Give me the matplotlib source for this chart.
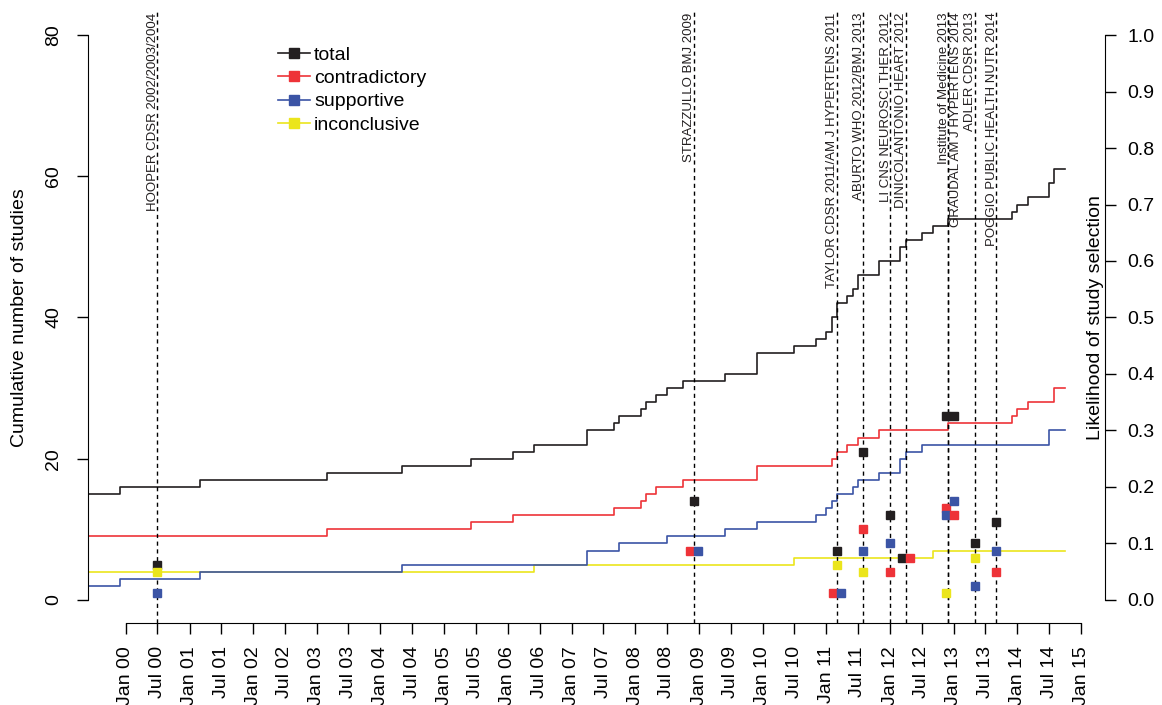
import pandas as pd
import matplotlib
matplotlib.use("Agg")
import matplotlib.pyplot as plt
import matplotlib.dates as mdates
import matplotlib.transforms as mtransforms
from matplotlib.lines import Line2D

plt.rcParams["font.family"] = ["Liberation Sans", "DejaVu Sans"]

# cumulative counts (step changes, monthly)
total_dates = ["1999-06-01", "1999-12-01", "2001-03-01", "2003-03-01", "2004-05-01", "2005-06-01",
               "2006-02-01", "2006-06-01", "2007-04-01", "2007-09-01", "2007-10-01", "2008-02-01",
               "2008-03-01", "2008-05-01", "2008-07-01", "2008-10-01", "2009-06-01", "2009-12-01",
               "2010-07-01", "2010-11-01", "2011-01-01", "2011-02-01", "2011-03-01", "2011-05-01",
               "2011-06-01", "2011-07-01", "2011-11-01", "2012-03-01", "2012-04-01", "2012-07-01",
               "2012-09-01", "2012-12-01", "2013-12-01", "2014-01-01", "2014-03-01", "2014-07-01",
               "2014-08-01"]
total_counts = [15, 16, 17, 18, 19, 20, 21, 22, 24, 25, 26, 27, 28, 29, 30, 31, 32, 35, 36, 37,
                38, 40, 42, 43, 44, 46, 48, 50, 51, 52, 53, 54, 55, 56, 57, 59, 61]

contra_dates = ["1999-06-01", "2003-03-01", "2005-06-01", "2006-02-01", "2007-09-01", "2008-02-01",
                "2008-03-01", "2008-05-01", "2008-10-01", "2009-12-01", "2011-02-01", "2011-03-01",
                "2011-05-01", "2011-07-01", "2011-11-01", "2012-12-01", "2013-12-01", "2014-01-01",
                "2014-03-01", "2014-08-01"]
contra_counts = [9, 10, 11, 12, 13, 14, 15, 16, 17, 19, 20, 21, 22, 23, 24, 25, 26, 27, 28, 30]

support_dates = ["1999-06-01", "1999-12-01", "2001-03-01", "2004-05-01", "2007-04-01", "2007-10-01",
                 "2008-07-01", "2009-06-01", "2009-12-01", "2010-11-01", "2011-01-01", "2011-02-01",
                 "2011-03-01", "2011-06-01", "2011-07-01", "2011-11-01", "2012-03-01", "2012-04-01",
                 "2012-07-01", "2014-07-01"]
support_counts = [2, 3, 4, 5, 7, 8, 9, 10, 11, 12, 13, 14, 15, 16, 17, 18, 20, 21, 22, 24]

incon_dates = ["1999-06-01", "2006-06-01", "2010-07-01", "2012-09-01"]
incon_counts = [4, 5, 6, 7]

end_date = "2014-10-01"

# reviews and their likelihood of study selection
reviews = ["HOOPER CDSR 2002/2003/2004", "STRAZZULLO BMJ 2009",
           "TAYLOR CDSR 2011/AM J HYPERTENS 2011", "ABURTO WHO 2012/BMJ 2013",
           "LI CNS NEUROSCI THER 2012", "DINICOLANTONIO HEART 2012",
           "Institute of Medicine 2013", "GRAUDAL AM J HYPERTENS 2014",
           "ADLER CDSR 2013", "POGGIO PUBLIC HEALTH NUTR 2014"]
review_lines = ["2000-07-01", "2008-12-01", "2011-03-01", "2011-08-01", "2012-01-01",
                "2012-04-01", "2012-12-01", "2012-12-01", "2013-05-01", "2013-09-01"]
point_dates = ["2000-07-01", "2008-12-01", "2011-03-01", "2011-08-01", "2012-01-01",
               "2012-04-01", "2012-11-18", "2013-01-02", "2013-05-01", "2013-09-01"]
label_side = ["left"] * 7 + ["right"] + ["left"] * 2

total_lik = [0.0625, 0.175, 0.0875, 0.2625, 0.15, 0.075, 0.325, 0.325, 0.1, 0.1375]
contra_lik = [None, 0.0875, 0.0125, 0.125, 0.05, 0.075, 0.1625, 0.15, None, 0.05]
support_lik = [0.0125, 0.0875, 0.0125, 0.0875, 0.1, None, 0.15, 0.175, 0.025, 0.0875]
incon_lik = [0.05, None, 0.0625, 0.05, None, None, 0.0125, None, 0.075, None]

names = ["total", "contradictory", "supportive", "inconclusive"]
colours = ["#231f20", "#ee3338", "#3b54a5", "#ebe51c"]

fig = plt.figure(figsize=(11.62, 7.05), dpi=100)
ax = fig.add_axes([0.0761, 0.1169, 0.8645, 0.8655])

series = [(total_dates, total_counts), (contra_dates, contra_counts),
          (support_dates, support_counts), (incon_dates, incon_counts)]
draw_order = [0, 1, 3, 2]
for k in draw_order:
    d, c = series[k]
    x = pd.to_datetime(d + [end_date])
    y = c + [c[-1]]
    ax.step(x, y, where="post", color=colours[k], lw=1.2, zorder=2)

for d in review_lines:
    ax.axvline(pd.Timestamp(d), color="black", lw=1.0, dashes=(3, 2.6), zorder=3)

ax.set_xlim(pd.Timestamp("1999-06-01"), pd.Timestamp("2015-03-10"))
ax.set_ylim(-3.2, 83.2)

ticks = pd.date_range("2000-01-01", "2015-01-01", freq="6MS")
ax.set_xticks(ticks)
ax.xaxis.set_major_formatter(mdates.DateFormatter("%b %y"))
ax.set_yticks([0, 20, 40, 60, 80])
ax.tick_params(axis="x", labelsize=14, length=8, width=1, pad=9, labelrotation=90)
ax.tick_params(axis="y", labelsize=14, length=8, width=1, pad=11)
for t in ax.get_yticklabels():
    t.set_rotation(90)
    t.set_va("center")

ax.spines["top"].set_visible(False)
ax.spines["right"].set_visible(False)
ax.spines["left"].set_bounds(0, 80)
ax.spines["bottom"].set_bounds(mdates.date2num(pd.Timestamp("2000-01-01")),
                               mdates.date2num(pd.Timestamp("2015-01-01")))

# right axis: likelihood points
ax2 = ax.twinx()
ax2.set_ylim(-0.04, 1.04)
ax2.set_yticks([i / 10 for i in range(11)])
ax2.set_yticklabels([f"{i / 10:.1f}" for i in range(11)])
ax2.tick_params(axis="y", labelsize=14, length=8, width=1, pad=8)
for t in ax2.get_yticklabels():
    t.set_rotation(90)
    t.set_va("center")
for s in ["top", "left", "bottom"]:
    ax2.spines[s].set_visible(False)
ax2.spines["right"].set_position(("outward", 8.5))
ax2.spines["right"].set_bounds(0, 1)

lik = [total_lik, contra_lik, support_lik, incon_lik]
for i in range(len(reviews)):
    base = pd.Timestamp(point_dates[i])
    seen = {}
    shifts = [0] * 4
    for k in range(4):
        v = lik[k][i]
        if v is None:
            continue
        if v in seen:
            shifts[seen[v]] = -20
            shifts[k] = 26
        else:
            seen[v] = k
    for k in range(4):
        v = lik[k][i]
        if v is None:
            continue
        ax2.plot(base + pd.Timedelta(days=shifts[k]), v, marker="s", ms=6,
                 color=colours[k], ls="none", zorder=5)

# review labels along the dashed lines
top = mtransforms.blended_transform_factory(ax.transData, ax.transAxes)
for name, d, side in zip(reviews, review_lines, label_side):
    if side == "left":
        tr = mtransforms.offset_copy(top, fig=fig, x=-1.5, y=0, units="dots")
        ax.text(pd.Timestamp(d), 1.0, name, transform=tr, rotation=90, rotation_mode="anchor",
                ha="right", va="baseline", fontsize=9.5, color="#231f20")
    else:
        tr = mtransforms.offset_copy(top, fig=fig, x=1.5, y=0, units="dots")
        ax.text(pd.Timestamp(d), 1.0, name, transform=tr, rotation=90, rotation_mode="anchor",
                ha="right", va="top", fontsize=9.5, color="#231f20")

handles = [Line2D([], [], color=c, lw=1.2, marker="s", ms=6.5) for c in colours]
fig.legend(handles, names, loc="upper left", bbox_to_anchor=(278 / 1162, 1 - 46 / 705),
           frameon=False, fontsize=14, handlelength=1.65, handletextpad=0.2,
           labelspacing=0.3, borderpad=0, borderaxespad=0)

fig.text(20 / 1162, 1 - 317.5 / 705, "Cumulative number of studies", rotation=90,
         ha="center", va="center", fontsize=14)
fig.text(1095 / 1162, 1 - 317.5 / 705, "Likelihood of study selection", rotation=90,
         ha="center", va="center", fontsize=14)

fig.savefig("out.png", dpi=100)
